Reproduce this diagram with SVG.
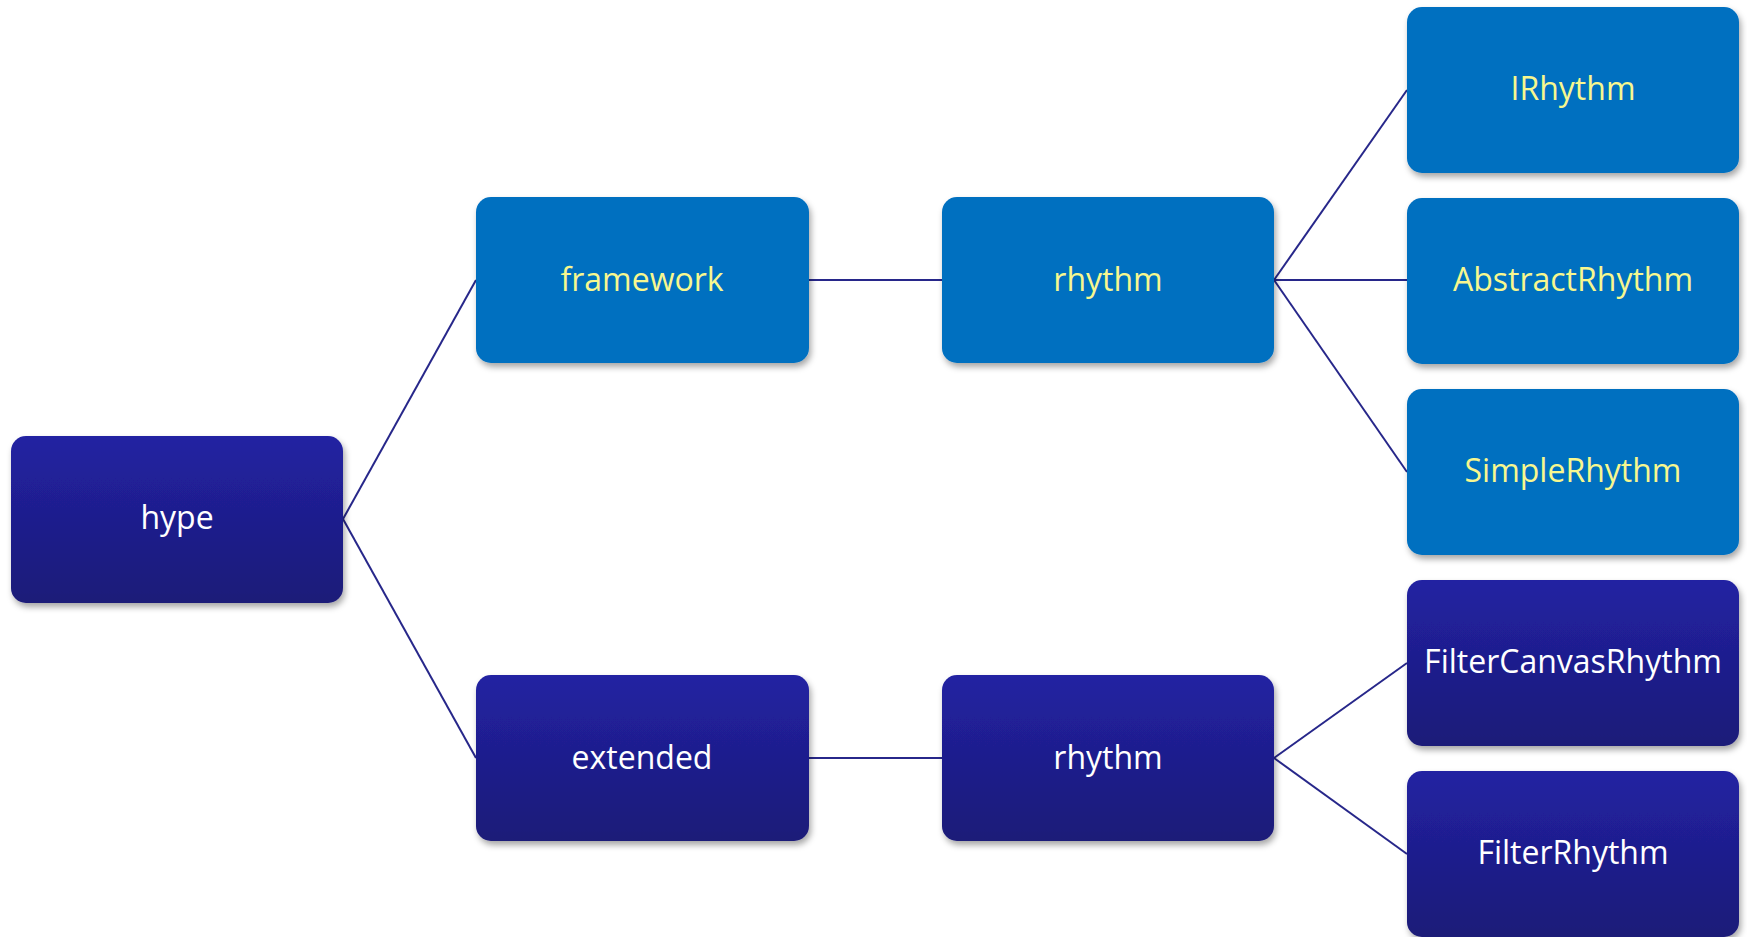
<svg xmlns="http://www.w3.org/2000/svg" width="1747" height="937" viewBox="0 0 1747 937">
  <defs>
    <linearGradient id="navy" x1="0" y1="0" x2="0" y2="1">
      <stop offset="0" stop-color="#2222A2"/>
      <stop offset="1" stop-color="#1B1A78"/>
    </linearGradient>
    <filter id="shadow" x="-10%" y="-10%" width="125%" height="130%">
      <feDropShadow dx="2" dy="4" stdDeviation="3" flood-color="#000" flood-opacity="0.35"/>
    </filter>
  </defs>
  <style>
    .box { filter: url(#shadow); }
    .blue { fill: #0070C0; }
    .dark { fill: url(#navy); }
    .lbl { font-family: "Open Sans", "Liberation Sans", sans-serif; font-size: 32px; text-anchor: middle; }
    .ylw { fill: #F7F78F; }
    .wht { fill: #FFFFFF; }
    .edge { stroke: #27278A; stroke-width: 2; fill: none; }
  </style>
  <rect width="1747" height="937" fill="#FFFFFF"/>

  <g id="connectors">
    <line class="edge" x1="343" y1="519" x2="476" y2="280"/>
    <line class="edge" x1="343" y1="519" x2="476" y2="758"/>
    <line class="edge" x1="809" y1="280" x2="942" y2="280"/>
    <line class="edge" x1="809" y1="758" x2="942" y2="758"/>
    <line class="edge" x1="1274" y1="280" x2="1407" y2="90"/>
    <line class="edge" x1="1274" y1="280" x2="1407" y2="280"/>
    <line class="edge" x1="1274" y1="280" x2="1407" y2="472"/>
    <line class="edge" x1="1274" y1="758" x2="1407" y2="663"/>
    <line class="edge" x1="1274" y1="758" x2="1407" y2="854"/>
  </g>

  <g id="hype">
    <rect class="box dark" x="11" y="436" width="332" height="167" rx="15"/>
    <text class="lbl wht" x="177" y="529">hype</text>
  </g>
  <g id="framework">
    <rect class="box blue" x="476" y="197" width="333" height="166" rx="15"/>
    <text class="lbl ylw" x="642" y="291">framework</text>
  </g>
  <g id="framework-rhythm">
    <rect class="box blue" x="942" y="197" width="332" height="166" rx="15"/>
    <text class="lbl ylw" x="1108" y="291">rhythm</text>
  </g>
  <g id="extended">
    <rect class="box dark" x="476" y="675" width="333" height="166" rx="15"/>
    <text class="lbl wht" x="642" y="769">extended</text>
  </g>
  <g id="extended-rhythm">
    <rect class="box dark" x="942" y="675" width="332" height="166" rx="15"/>
    <text class="lbl wht" x="1108" y="769">rhythm</text>
  </g>
  <g id="IRhythm">
    <rect class="box blue" x="1407" y="7" width="332" height="166" rx="15"/>
    <text class="lbl ylw" x="1573" y="100">IRhythm</text>
  </g>
  <g id="AbstractRhythm">
    <rect class="box blue" x="1407" y="198" width="332" height="166" rx="15"/>
    <text class="lbl ylw" x="1573" y="291">AbstractRhythm</text>
  </g>
  <g id="SimpleRhythm">
    <rect class="box blue" x="1407" y="389" width="332" height="166" rx="15"/>
    <text class="lbl ylw" x="1573" y="482">SimpleRhythm</text>
  </g>
  <g id="FilterCanvasRhythm">
    <rect class="box dark" x="1407" y="580" width="332" height="166" rx="15"/>
    <text class="lbl wht" x="1573" y="673">FilterCanvasRhythm</text>
  </g>
  <g id="FilterRhythm">
    <rect class="box dark" x="1407" y="771" width="332" height="166" rx="15"/>
    <text class="lbl wht" x="1573" y="864">FilterRhythm</text>
  </g>
</svg>
